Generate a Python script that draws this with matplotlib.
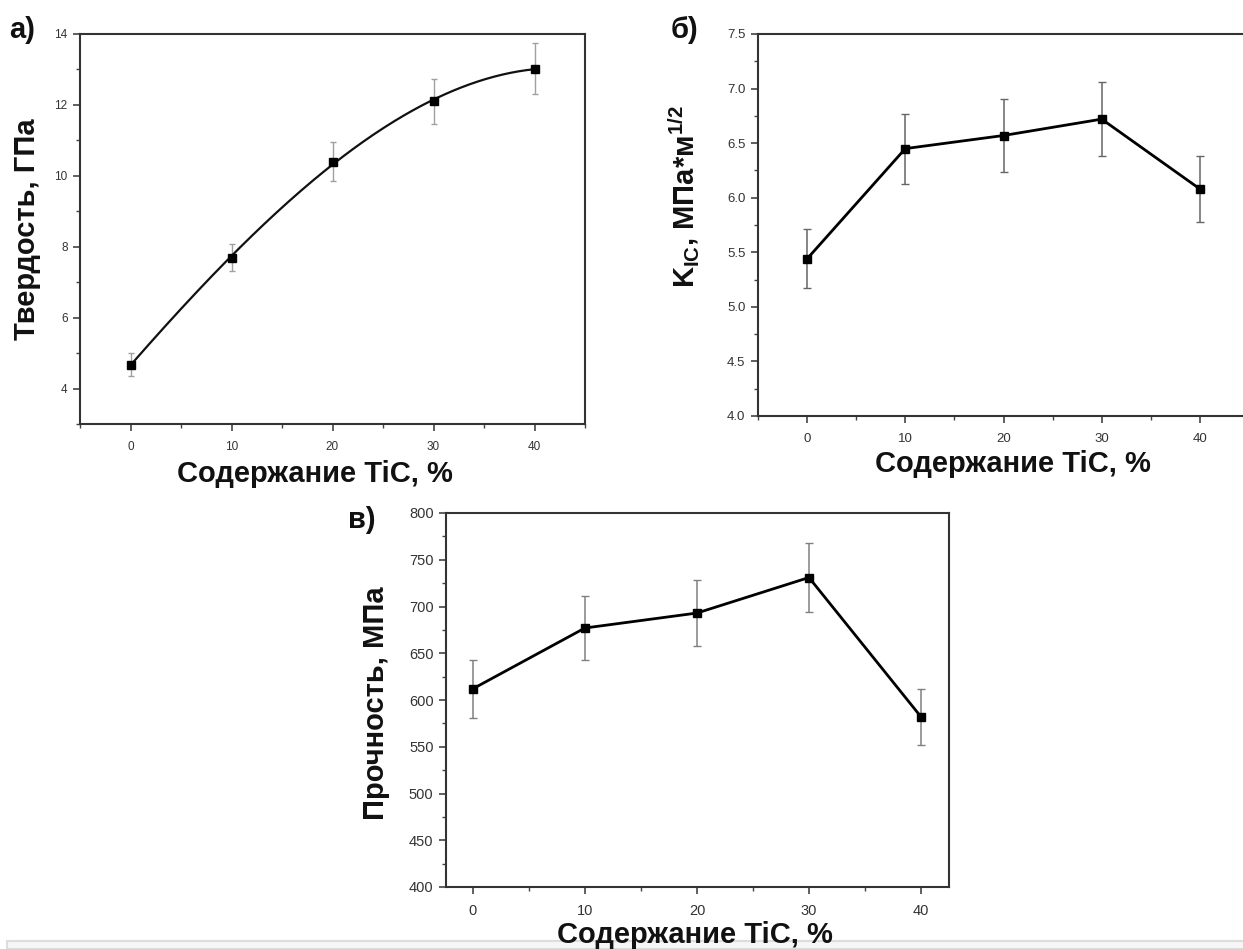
import numpy as np
import matplotlib
matplotlib.use("Agg")
import matplotlib.pyplot as plt
from matplotlib.ticker import MultipleLocator
from matplotlib.patches import Rectangle

plt.rcParams['font.family'] = ['Liberation Sans', 'DejaVu Sans']

W, H = 1243, 949

# Data
tic = [0, 10, 20, 30, 40]

hardness = [4.67, 7.69, 10.39, 12.10, 13.02]
hardness_err = [0.33, 0.38, 0.55, 0.63, 0.72]

kic = [5.44, 6.45, 6.57, 6.72, 6.08]
kic_err = [0.27, 0.32, 0.33, 0.34, 0.30]

strength = [612, 677, 693, 731, 582]
strength_err = [31, 34, 35, 37, 30]

xlabel = "Содержание TiC, %"


def px_rect(l, t, r, b):
    return [l / W, 1 - b / H, (r - l) / W, (b - t) / H]


def style_axes(ax, ymaj, ymin, tick_size):
    for s in ax.spines.values():
        s.set_color('#333333')
        s.set_linewidth(1.5)
    ax.xaxis.set_major_locator(MultipleLocator(10))
    ax.xaxis.set_minor_locator(MultipleLocator(5))
    ax.yaxis.set_major_locator(MultipleLocator(ymaj))
    ax.yaxis.set_minor_locator(MultipleLocator(ymin))
    ax.tick_params(which='both', direction='out', top=False, right=False,
                   color='#444444', labelcolor='#333333')
    ax.tick_params(which='major', length=5, width=1.2, labelsize=tick_size, pad=4)
    ax.tick_params(which='minor', length=3, width=1.0)
    ax.tick_params(axis='x', which='major', pad=7)


fig = plt.figure(figsize=(W / 100, H / 100), dpi=100)

# --- a) hardness
ax1 = fig.add_axes(px_rect(80, 34, 585, 424))
ax1.errorbar(tic, hardness, yerr=hardness_err, fmt='none', ecolor='#a0a0a0',
             elinewidth=1, capsize=2, capthick=1)
coef = np.polyfit(tic, hardness, 3)
xs = np.linspace(tic[0], tic[-1], 200)
ax1.plot(xs, np.polyval(coef, xs), color='#111111', lw=1.6)
ax1.plot(tic, hardness, 's', color='black', ms=5.5)
ax1.set_xlim(-5, 45)
ax1.set_ylim(3, 14)
style_axes(ax1, 2, 1, 8.5)

# --- б) K_IC
ax2 = fig.add_axes(px_rect(758, 34, 1249, 416))
ax2.errorbar(tic, kic, yerr=kic_err, fmt='none', ecolor='#666666',
             elinewidth=1.1, capsize=3, capthick=1)
ax2.plot(tic, kic, '-s', color='black', lw=2, ms=6)
ax2.set_xlim(-5, 45)
ax2.set_ylim(4, 7.5)
style_axes(ax2, 0.5, 0.25, 9.5)
ax2.yaxis.set_major_formatter(plt.FormatStrFormatter('%.1f'))

# --- в) strength
ax3 = fig.add_axes(px_rect(446, 513, 949, 887))
ax3.errorbar(tic, strength, yerr=strength_err, fmt='none', ecolor='#808080',
             elinewidth=1.1, capsize=3, capthick=1)
ax3.plot(tic, strength, '-s', color='black', lw=2, ms=6)
ax3.set_xlim(-2.4, 42.5)
ax3.set_ylim(400, 800)
style_axes(ax3, 50, 25, 10.5)


def ftext(x, y, s, **kw):
    fig.text(x / W, 1 - y / H, s, ha='center', va='center', **kw)


lab = dict(fontsize=21, fontweight='bold', color='#111111')

# panel letters
ftext(22, 30, "а)", **lab)
ftext(684, 30, "б)", **lab)
ftext(362, 520, "в)", **lab)

# y labels
ftext(27, 229, "Твердость, ГПа", rotation=90, **lab)
ftext(684, 197, "K$_{\\mathregular{IC}}$, МПа*м$^{\\mathregular{1/2}}$",
      rotation=90, **lab)
ftext(376, 703, "Прочность, МПа", rotation=90, **lab)

# x labels
ftext(315, 474, xlabel, **lab)
ftext(1013, 464, xlabel, **lab)
ftext(695, 935, xlabel, **lab)

# screenshot strip at the bottom
fig.add_artist(Rectangle((7 / W, 0), 1, 1 - 941 / H, transform=fig.transFigure,
                         facecolor='#f6f6f6', edgecolor='#dddddd', lw=1.5,
                         zorder=-1))

fig.savefig("out.png", dpi=100)
